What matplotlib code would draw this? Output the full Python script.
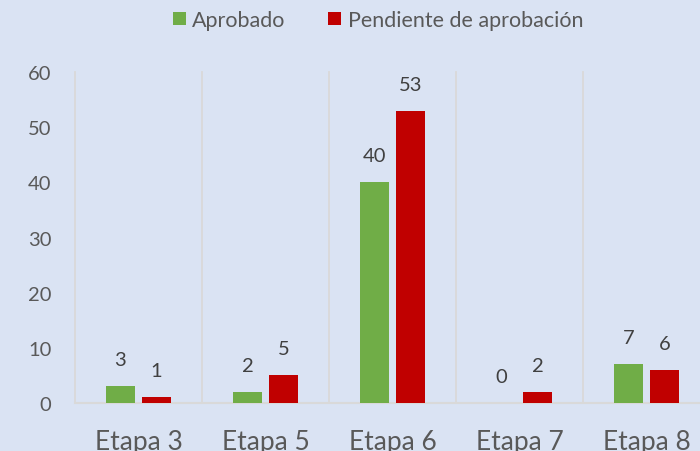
import matplotlib.pyplot as plt
import numpy as np

stages = ["Etapa 3", "Etapa 5", "Etapa 6", "Etapa 7", "Etapa 8"]
approved = [3, 2, 40, 0, 7]
pending = [1, 5, 53, 2, 6]
series_names = ["Aprobado", "Pendiente de aprobación"]
y_ticks = [0, 10, 20, 30, 40, 50, 60]

BG = "#DAE3F3"
GREEN = "#70AD47"
RED = "#C00000"
GRID = "#D9D9D9"
TICK_TEXT = "#595959"
LABEL_TEXT = "#404040"

plt.rcParams["font.family"] = ["Lato", "DejaVu Sans"]

fig = plt.figure(figsize=(7.0, 4.52), dpi=100, facecolor=BG)
ax = fig.add_axes([75 / 700, 48 / 452, 635 / 700, 331 / 452], facecolor=BG)

x = np.arange(len(stages))
bar_w = 0.224
offset = 0.142

bars_a = ax.bar(x - offset, approved, bar_w, color=GREEN, label=series_names[0], zorder=3)
bars_p = ax.bar(x + offset, pending, bar_w, color=RED, label=series_names[1], zorder=3)

for bars in (bars_a, bars_p):
    for rect in bars:
        ax.annotate(
            f"{rect.get_height():.0f}",
            (rect.get_x() + rect.get_width() / 2, rect.get_height()),
            xytext=(0, 13),
            textcoords="offset points",
            ha="center",
            va="bottom",
            fontsize=14.5,
            color=LABEL_TEXT,
        )

# category separators
for b in np.arange(-0.5, len(stages) + 0.5, 1.0):
    ax.plot([b, b], [0, 60], color=GRID, linewidth=1.3, zorder=1, clip_on=False)

ax.set_xlim(-0.5, len(stages) - 0.5)
ax.set_ylim(0, 60)
ax.set_yticks(y_ticks)
ax.set_xticks(x)
ax.set_xticklabels(stages)

for side in ("left", "right", "top"):
    ax.spines[side].set_visible(False)
ax.spines["bottom"].set_color(GRID)
ax.spines["bottom"].set_linewidth(1.5)

ax.tick_params(axis="y", length=0, pad=17, labelsize=14.5, labelcolor=TICK_TEXT)
ax.tick_params(axis="x", length=0, pad=19, labelsize=19, labelcolor=TICK_TEXT)

fig.legend(
    loc="center",
    bbox_to_anchor=(378 / 700, 1 - 21 / 452),
    ncol=2,
    frameon=False,
    fontsize=15.5,
    labelcolor=TICK_TEXT,
    handlelength=0.6,
    handleheight=0.6,
    handletextpad=0.3,
    columnspacing=2.0,
)

fig.savefig("out.png", dpi=100, facecolor=BG)
